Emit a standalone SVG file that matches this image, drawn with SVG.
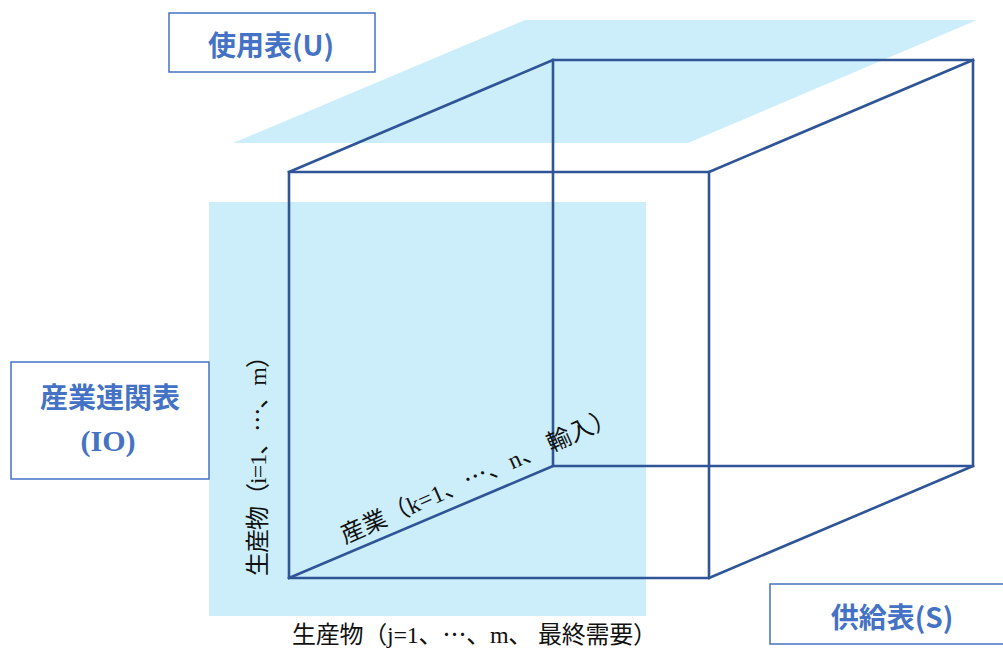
<svg xmlns="http://www.w3.org/2000/svg" width="1003" height="648" viewBox="0 0 1003 648">
<style>
.plane{fill:#CCEEFA;stroke:none}
.edge{stroke:#2F5597;stroke-width:2.6;fill:none;stroke-linecap:square}
.lbox{fill:#FFFFFF;stroke:#4472C4;stroke-width:1.5}
.ltxt{font-family:"Noto Sans CJK JP","Liberation Sans",sans-serif;font-weight:bold;font-size:28px;fill:#4472C4;text-anchor:middle}
.atxt{font-family:"Liberation Serif","Noto Sans CJK JP",serif;font-size:24px;fill:#111111}
.cj{font-family:"Noto Sans CJK JP",sans-serif}
</style>
<rect width="1003" height="648" fill="#FFFFFF"/>
<g id="use-plane"><polygon class="plane" points="525,20 977,20 688,143 233,143"/></g>
<g id="io-plane"><rect class="plane" x="209" y="202" width="437" height="414"/></g>
<g id="connectors">
<polyline class="edge" points="289,578 289,172 709,172 709,578 289,578"/>
<polyline class="edge" points="553,466 553,60 973,60 973,466 553,466"/>
<line class="edge" x1="289" y1="172" x2="553" y2="60"/>
<line class="edge" x1="709" y1="172" x2="973" y2="60"/>
<line class="edge" x1="289" y1="578" x2="553" y2="466"/>
<line class="edge" x1="709" y1="578" x2="973" y2="466"/>
</g>
<g id="label-use"><rect class="lbox" x="169" y="13" width="206" height="59"/><text class="ltxt" x="271" y="56">使用表(U)</text></g>
<g id="label-io"><rect class="lbox" x="11" y="362" width="198" height="117"/><text class="ltxt" x="110" y="408">産業連関表</text><text x="108" y="451" style="font-family:'Liberation Serif','Noto Sans CJK JP',serif;font-weight:bold;font-size:30px;fill:#4472C4;text-anchor:middle">(IO)</text></g>
<g id="label-supply"><rect class="lbox" x="770" y="584" width="240" height="60"/><text class="ltxt" x="892" y="628">供給表(S)</text></g>
<g id="axis-labels">
<text class="atxt" transform="translate(266,576) rotate(-90)" textLength="232" lengthAdjust="spacing">生産物（i=1、<tspan class="cj">…</tspan>、m）</text>
<text class="atxt" transform="translate(345,544) rotate(-24)" textLength="298" lengthAdjust="spacing">産業（k=1、<tspan class="cj">…</tspan>、n、 輸入）</text>
<text class="atxt" x="292" y="643" textLength="365" lengthAdjust="spacing">生産物（j=1、<tspan class="cj">…</tspan>、m、 最終需要）</text>
</g>
</svg>
